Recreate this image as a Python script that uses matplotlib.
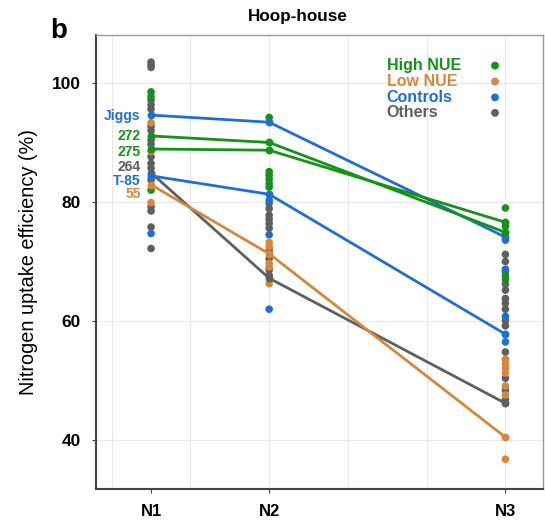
import numpy as np
import matplotlib
matplotlib.use("Agg")
import matplotlib.pyplot as plt

plt.rcParams['font.family'] = ['Liberation Sans', 'DejaVu Sans']

# x positions of the three nitrogen levels (continuous axis)
n_pos = [1, 4, 10]
n_labels = ["N1", "N2", "N3"]

GREEN = "#16911a"
ORANGE = "#d4883e"
BLUE = "#1f6fd2"
GRAY = "#5f5f5f"

# background genotypes per group, values at N1, N2, N3
green_n1 = [98.5, 97.7, 82.0]
green_n2 = [94.2, 85.1, 84.5, 83.8, 83.1, 82.5]
green_n3 = [79.0, 75.9, 67.6, 67.0]

orange_n1 = [93.3, 88.5, 79.9]
orange_n2 = [73.2, 72.5, 69.7, 69.1, 66.3]
orange_n3 = [53.6, 52.8, 52.1, 51.3, 49.1, 47.6, 36.8]

blue_n1 = [74.7]
blue_n2 = [80.3, 74.5, 62.0]
blue_n3 = [73.6, 68.7, 60.8, 56.5]

gray_n1 = [103.5, 103.0, 102.6, 97.1, 96.3, 95.6, 92.7, 92.0, 90.4, 89.7,
           87.6, 86.5, 85.7, 83.7, 79.2, 78.5, 75.8, 72.2]
gray_n2 = [79.8, 78.9, 77.8, 77.1, 76.4, 75.6, 71.9, 70.5, 68.6, 67.7]
gray_n3 = [71.2, 70.0, 68.3, 66.2, 65.2, 63.8, 63.0, 62.0, 60.1, 59.2,
           54.8, 50.4, 48.4, 46.8]

# highlighted genotypes: N1, N2, N3
line_names = ["Jiggs", "272", "275", "264", "T-85", "55"]
line_vals = [
    [94.6, 93.4, 74.1],
    [91.1, 90.0, 74.9],
    [88.9, 88.7, 76.6],
    [84.9, 67.2, 46.2],
    [84.4, 81.3, 57.8],
    [82.9, 71.3, 40.5],
]
line_colors = [BLUE, GREEN, GREEN, GRAY, BLUE, ORANGE]
label_y = [94.5, 91.1, 88.4, 85.9, 83.6, 81.3]

groups = [
    ("High NUE", GREEN, [green_n1, green_n2, green_n3]),
    ("Low NUE", ORANGE, [orange_n1, orange_n2, orange_n3]),
    ("Controls", BLUE, [blue_n1, blue_n2, blue_n3]),
    ("Others", GRAY, [gray_n1, gray_n2, gray_n3]),
]

fig = plt.figure(figsize=(5.45, 5.21), dpi=100)
ax = fig.add_axes([0.176, 0.0614, 0.82, 0.872])

for gx in np.arange(0, 11, 2):
    ax.axvline(gx, color="#e8e8e8", lw=0.8, zorder=0)
for gy in [40, 60, 80, 100]:
    ax.axhline(gy, color="#e8e8e8", lw=0.8, zorder=0)

# draw "Others" first so colored groups sit on top
for name, col, vals in groups[::-1]:
    for xp, v in zip(n_pos, vals):
        ax.scatter([xp] * len(v), v, s=30, color=col, edgecolors="none", zorder=2)

for vals, col in zip(line_vals, line_colors):
    ax.plot(n_pos, vals, color=col, lw=2, marker="o", ms=5.7, mec="none", zorder=3)

for name, yv, col in zip(line_names, label_y, line_colors):
    ax.text(0.74, yv, name, color=col, fontsize=10, fontweight="bold",
            ha="right", va="center", zorder=4)

# legend: coloured labels on the left, dots on the right
leg_y = [0.932, 0.897, 0.862, 0.828]
for (name, col, _), yy in zip(groups, leg_y):
    ax.text(0.651, yy, name, color=col, fontsize=11.5, fontweight="bold",
            ha="left", va="center", transform=ax.transAxes)
    ax.scatter(0.893, yy, s=32, color=col, edgecolors="none",
               transform=ax.transAxes, clip_on=False)

ax.set_xlim(-0.4, 10.95)
ax.set_ylim(31.8, 108.1)
ax.set_xticks(n_pos)
ax.set_xticklabels(n_labels, fontsize=12, fontweight="bold")
ax.set_yticks([40, 60, 80, 100])
ax.set_yticklabels(["40", "60", "80", "100"], fontsize=12.5, fontweight="bold")
ax.tick_params(axis="both", length=3, width=0.8, color="#444444", pad=8)
ax.set_ylabel("Nitrogen uptake efficiency (%)", fontsize=14.3, labelpad=10)

for side in ["top", "right"]:
    ax.spines[side].set_color("#999999")
    ax.spines[side].set_linewidth(1.0)
for side in ["left", "bottom"]:
    ax.spines[side].set_color("#444444")
    ax.spines[side].set_linewidth(1.5)

fig.text(0.546, 0.969, "Hoop-house", fontsize=12.3, fontweight="bold",
         ha="center", va="center")
fig.text(0.108, 0.94, "b", fontsize=20, fontweight="bold", ha="center", va="center")

fig.savefig("out.png", dpi=100)
